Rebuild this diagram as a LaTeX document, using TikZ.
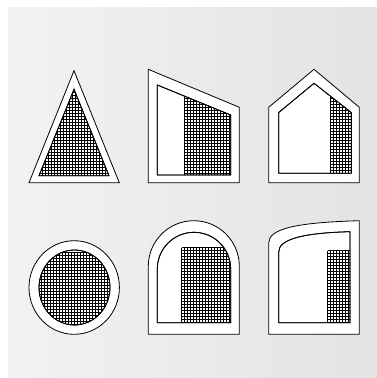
\documentclass[tikz,border=0pt]{standalone}
\usepackage{tikz}

\newcommand{\meshgrid}[4]{%
  \foreach \k in {0,...,34} {
    \draw[mesh] (#1+\k*3,#2) -- (#1+\k*3,#4);
    \draw[mesh] (#1,#2+\k*3) -- (#3,#2+\k*3);
  }%
}

\begin{document}
\begin{tikzpicture}[x=1pt, y=-1pt]
\tikzset{
  frame/.style={draw=black, fill=white, line width=0.8pt, line join=miter},
  mesh/.style={draw=black, line width=1.4pt},
}
\useasboundingbox (0,0) rectangle (377,378);
% background
\shade[left color=black!5, right color=black!11] (8,7) rectangle (377,378);

% triangle
\draw[frame] (74,70.7) -- (119.3,182.7) -- (29,182.7) -- cycle;
\draw[frame] (74,89.3) -- (109,175.7) -- (39,175.7) -- cycle;
\begin{scope}
  \clip (74,89.3) -- (109,175.7) -- (39,175.7) -- cycle;
  \meshgrid{36.5}{86.5}{112}{180}
\end{scope}
\draw[line width=0.8pt] (74,89.3) -- (109,175.7) -- (39,175.7) -- cycle;

% sloped roof
\draw[frame] (148.3,69.3) -- (239.3,107.3) -- (239.3,182.7) -- (148.3,182.7) -- cycle;
\draw[frame] (157.3,85) -- (230.7,115) -- (230.7,175) -- (157.3,175) -- cycle;
\begin{scope}
  \clip (157.3,85) -- (230.7,115) -- (230.7,175) -- (157.3,175) -- cycle;
  \clip (183.3,80) rectangle (240,180);
  \meshgrid{184.5}{92.5}{240}{180}
\end{scope}
\draw[line width=0.8pt] (157.3,85) -- (230.7,115) -- (230.7,175) -- (157.3,175) -- cycle;

% house
\draw[frame] (314,69.3) -- (359.3,107.3) -- (359.3,182.7) -- (268.7,182.7) -- (268.7,107.3) -- cycle;
\draw[frame] (314,83.3) -- (351.3,112.5) -- (351.3,173.3) -- (278.7,173.3) -- (278.7,112.5) -- cycle;
\begin{scope}
  \clip (314,83.3) -- (351.3,112.5) -- (351.3,173.3) -- (278.7,173.3) -- (278.7,112.5) -- cycle;
  \clip (329.3,80) rectangle (360,180);
  \meshgrid{330.5}{92.5}{360}{180}
\end{scope}
\draw[line width=0.8pt] (314,83.3) -- (351.3,112.5) -- (351.3,173.3) -- (278.7,173.3) -- (278.7,112.5) -- cycle;
\draw[line width=1.6pt] (351.3,112.5) -- (351.3,173.3);

% circle
\draw[frame] (74.2,287.5) ellipse [x radius=45.2, y radius=46.8];
\draw[frame] (74.5,287.5) ellipse [x radius=35.5, y radius=37.5];
\begin{scope}
  \clip (74.5,287.5) ellipse [x radius=35.5, y radius=37.5];
  \clip (30,252.5) rectangle (120,340);
  \meshgrid{38.5}{252.5}{112}{330}
\end{scope}
\draw[line width=0.8pt] (74.5,287.5) ellipse [x radius=35.5, y radius=37.5];

% arch
\draw[frame] (148.3,334.3) -- (148.3,266.2) arc[start angle=180, end angle=360, radius=45.5]
  -- (239.3,334.3) -- cycle;
\draw[frame] (157.3,322.7) -- (157.3,269) arc[start angle=180, end angle=360, radius=36.7]
  -- (230.7,322.7) -- cycle;
\begin{scope}
  \clip (157.3,322.7) -- (157.3,269) arc[start angle=180, end angle=360, radius=36.7]
    -- (230.7,322.7) -- cycle;
  \clip (180,246.7) rectangle (240,330);
  \meshgrid{181.5}{247.5}{240}{330}
\end{scope}
\draw[line width=0.8pt] (157.3,322.7) -- (157.3,269) arc[start angle=180, end angle=360, radius=36.7]
  -- (230.7,322.7) -- cycle;

% curved top
\draw[frame] (268.7,334.3) -- (268.7,243) .. controls (268.7,229) and (295,222.5) .. (359.3,220.7)
  -- (359.3,334.3) -- cycle;
\draw[frame] (278.7,322.7) -- (278.7,252) .. controls (278.7,240) and (300,233) .. (350,231.7)
  -- (350,322.7) -- cycle;
\begin{scope}
  \clip (326,249.3) rectangle (350,322.7);
  \meshgrid{327.5}{250.5}{352}{330}
\end{scope}
\draw[line width=0.8pt] (278.7,322.7) -- (278.7,252) .. controls (278.7,240) and (300,233) .. (350,231.7)
  -- (350,322.7) -- cycle;
\end{tikzpicture}
\end{document}
